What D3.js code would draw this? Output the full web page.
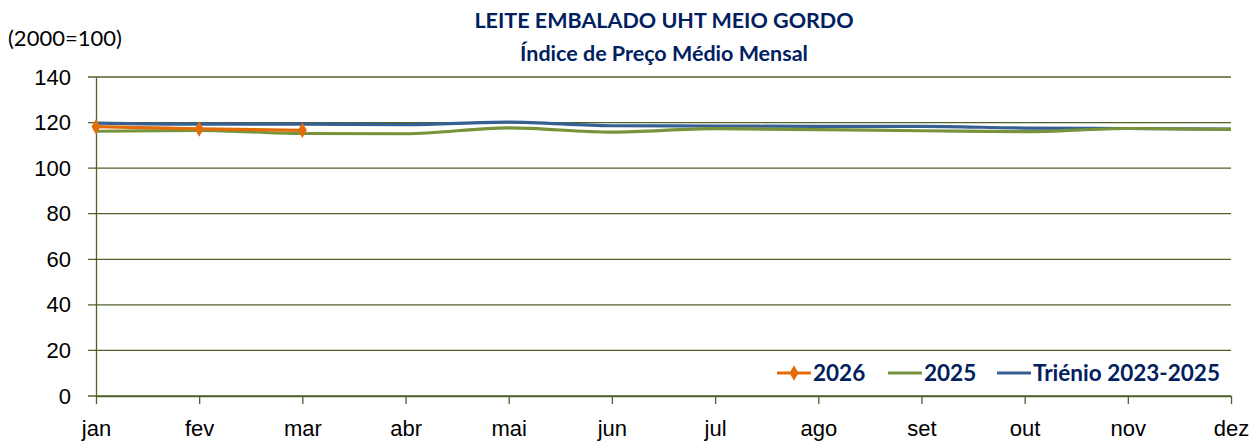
<!DOCTYPE html>
<html>
<head>
<meta charset="utf-8">
<script src="https://cdn.jsdelivr.net/npm/d3@7"></script>
<style>
  body { margin: 0; background: #fff; }
  svg { font-family: Lato, "Open Sans", sans-serif; }
</style>
</head>
<body>
<div id="chart"></div>
<script>
// categories and series values
var months = ["jan", "fev", "mar", "abr", "mai", "jun", "jul", "ago", "set", "out", "nov", "dez"];
var values2026 = [118.2, 117.2, 116.6];
var values2025 = [116.2, 116.6, 115.2, 115.1, 117.7, 115.8, 117.3, 116.9, 116.4, 116.0, 117.4, 117.0];
var valuesTrienio = [119.8, 119.3, 119.3, 119.1, 120.2, 118.6, 118.5, 118.3, 118.3, 117.6, 117.4, 117.1];
var yTicks = [0, 20, 40, 60, 80, 100, 120, 140];

var seriesNames = ["2026", "2025", "Triénio 2023-2025"];
var seriesColors = ["#E36C09", "#77933C", "#376092"];

function drawChart() {
    var w = 1252, h = 441;
    var margin = { top: 77, right: 21, bottom: 45, left: 96 };
    var width = w - margin.left - margin.right;
    var height = h - margin.top - margin.bottom;

    var svg = d3.select("#chart")
        .append("svg")
        .attr("width", w)
        .attr("height", h);

    var g = svg.append("g")
        .attr("transform", `translate(${margin.left},${margin.top})`);

    var xScale = d3.scalePoint()
        .domain(months)
        .range([0, width]);

    var yScale = d3.scaleLinear()
        .domain([0, 140])
        .range([height, 0]);

    var axisColor = "#4F6228";

    // horizontal gridlines
    g.selectAll(".grid")
        .data(yTicks)
        .enter()
        .append("line")
        .attr("x1", -8)
        .attr("x2", width)
        .attr("y1", d => yScale(d))
        .attr("y2", d => yScale(d))
        .attr("stroke", axisColor)
        .attr("stroke-width", 1.3);

    // y axis
    var yAxis = g.append("g")
        .call(d3.axisLeft(yScale).tickValues(yTicks).tickSize(0).tickPadding(25));
    yAxis.select(".domain").attr("stroke", axisColor).attr("stroke-width", 1.3);
    yAxis.selectAll("text").attr("font-size", "22px").attr("fill", "#000");

    // x axis
    var xAxis = g.append("g")
        .attr("transform", `translate(0,${height})`)
        .call(d3.axisBottom(xScale).tickSize(8).tickPadding(16).tickSizeOuter(0));
    xAxis.select(".domain").attr("stroke", axisColor).attr("stroke-width", 1.3);
    xAxis.selectAll(".tick line").attr("stroke", axisColor).attr("stroke-width", 1.3);
    xAxis.selectAll("text").attr("font-size", "22px").attr("fill", "#000");

    var line = d3.line()
        .x((d, i) => xScale(months[i]))
        .y(d => yScale(d))
        .curve(d3.curveMonotoneX);

    var data = [values2026, values2025, valuesTrienio];

    // draw lines: blue first, then green, then orange on top
    [2, 1, 0].forEach(function (k) {
        g.append("path")
            .attr("fill", "none")
            .attr("stroke", seriesColors[k])
            .attr("stroke-width", 3.2)
            .attr("d", line(data[k]));
    });

    // diamond markers for 2026
    g.selectAll(".dot")
        .data(values2026)
        .enter()
        .append("path")
        .attr("d", d3.symbol().type(d3.symbolDiamond).size(70))
        .attr("transform", (d, i) => `translate(${xScale(months[i])},${yScale(d)})`)
        .attr("fill", seriesColors[0]);

    // titles
    svg.append("text")
        .attr("x", 664)
        .attr("y", 28)
        .attr("text-anchor", "middle")
        .attr("font-size", "21.5px")
        .attr("font-weight", "bold")
        .attr("fill", "#002060")
        .text("LEITE EMBALADO UHT MEIO GORDO");

    svg.append("text")
        .attr("x", 664)
        .attr("y", 61)
        .attr("text-anchor", "middle")
        .attr("font-size", "21.5px")
        .attr("font-weight", "bold")
        .attr("fill", "#002060")
        .text("Índice de Preço Médio Mensal");

    svg.append("text")
        .attr("x", 8)
        .attr("y", 46)
        .attr("font-size", "22px")
        .attr("fill", "#000")
        .text("(2000=100)");

    // legend
    var legendX = [777, 888, 997];
    var legendY = 373;
    var legend = svg.append("g");
    seriesNames.forEach(function (name, k) {
        var lg = legend.append("g").attr("transform", `translate(${legendX[k]},${legendY})`);
        lg.append("line")
            .attr("x1", 0).attr("x2", 34)
            .attr("y1", 0).attr("y2", 0)
            .attr("stroke", seriesColors[k])
            .attr("stroke-width", 3.2);
        if (k === 0) {
            lg.append("path")
                .attr("d", d3.symbol().type(d3.symbolDiamond).size(70))
                .attr("transform", "translate(17,0)")
                .attr("fill", seriesColors[k]);
        }
        lg.append("text")
            .attr("x", 36)
            .attr("y", 8)
            .attr("font-size", "22.5px")
            .attr("font-weight", "bold")
            .attr("fill", "#002060")
            .text(name);
    });
}

drawChart();
</script>
</body>
</html>
